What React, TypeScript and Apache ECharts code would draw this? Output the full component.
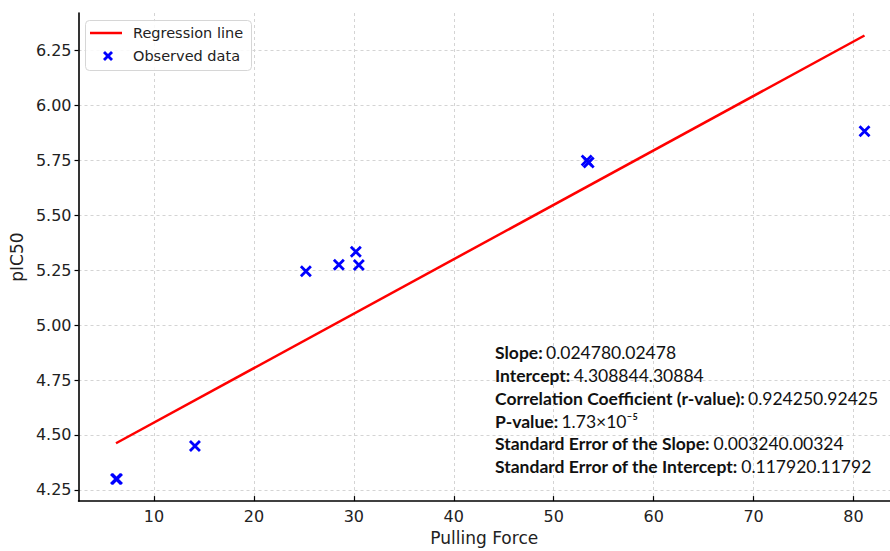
import React, { useEffect, useRef } from "react";
import * as echarts from "echarts";

const X_VALUES = [6.2, 6.3, 14.1, 25.2, 28.5, 30.2, 30.5, 53.3, 53.5, 81.1];
const Y_VALUES = [4.3, 4.3, 4.45, 5.245, 5.275, 5.334, 5.274, 5.75, 5.74, 5.883];
const X_TICKS = [10, 20, 30, 40, 50, 60, 70, 80];
const Y_TICKS = [4.25, 4.5, 4.75, 5.0, 5.25, 5.5, 5.75, 6.0, 6.25];
const SLOPE = 0.02478;
const INTERCEPT = 4.30884;
const STAT_LABELS = [
  "Slope:",
  "Intercept:",
  "Correlation Coefficient (r-value):",
  "P-value:",
  "Standard Error of the Slope:",
  "Standard Error of the Intercept:",
];
const STAT_VALUES = [
  "0.024780.02478",
  "4.308844.30884",
  "0.924250.92425",
  "1.73×10⁻⁵",
  "0.003240.00324",
  "0.117920.11792",
];

const TICK_FONT = "DejaVu Sans";

export default function App() {
  const ref = useRef<HTMLDivElement>(null);
  useEffect(() => {
    document.body.style.margin = "0";
    if (!ref.current) return;
    const chart = echarts.init(ref.current, undefined, { renderer: "svg" });
    const xMin = Math.min(...X_VALUES);
    const xMax = Math.max(...X_VALUES);
    const lineData = [
      [xMin, INTERCEPT + SLOPE * xMin],
      [xMax, INTERCEPT + SLOPE * xMax],
    ];
    const scatterData = X_VALUES.map((x, i) => [x, Y_VALUES[i]]);
    const statFont = "Lato";
    const statSize = 17.5;
    const statTexts = STAT_LABELS.map((lab, i) => ({
      type: "text",
      z: 100,
      x: 495,
      y: 352.7 + i * 22.8,
      style: {
        text: `{b|${lab}} {n|${STAT_VALUES[i]}}`,
        verticalAlign: "middle",
        rich: {
          b: { fontFamily: statFont, fontWeight: "bold", fontSize: statSize, fill: "#111" },
          n: { fontFamily: statFont, fontWeight: "normal", fontSize: statSize, fill: "#111" },
        },
      },
    }));
    chart.setOption({
      animation: false,
      grid: { left: 78, top: 13, right: 0, height: 492, containLabel: false },
      xAxis: {
        type: "value",
        min: 2.45,
        max: 83.65,
        name: "Pulling Force",
        nameLocation: "middle",
        nameGap: 25,
        nameTextStyle: { fontSize: 17, fontFamily: TICK_FONT, color: "#222" },
        axisLine: { show: true, onZero: false, lineStyle: { color: "#000", width: 1.6 } },
        axisTick: {
          show: true,
          inside: true,
          length: 5,
          customValues: X_TICKS,
          lineStyle: { color: "#000", width: 1.2 },
        },
        axisLabel: {
          customValues: X_TICKS,
          fontSize: 16,
          fontFamily: TICK_FONT,
          color: "#222",
          margin: 7,
        },
        splitLine: { show: true, lineStyle: { color: "#d4d4d4", type: [3, 3], width: 1 } },
      },
      yAxis: {
        type: "value",
        min: 4.199,
        max: 6.421,
        name: "pIC50",
        nameLocation: "middle",
        nameGap: 47,
        nameTextStyle: { fontSize: 17, fontFamily: TICK_FONT, color: "#222" },
        axisLine: { show: true, onZero: false, lineStyle: { color: "#000", width: 1.6 } },
        axisTick: {
          show: true,
          inside: false,
          length: 4,
          customValues: Y_TICKS,
          lineStyle: { color: "#000", width: 1.2 },
        },
        axisLabel: {
          customValues: Y_TICKS,
          fontSize: 16,
          fontFamily: TICK_FONT,
          color: "#222",
          margin: 7,
          formatter: (v: number) => v.toFixed(2),
        },
        splitLine: { show: true, lineStyle: { color: "#d4d4d4", type: [3, 3], width: 1 } },
      },
      series: [
        {
          name: "Regression line",
          type: "line",
          data: lineData,
          showSymbol: false,
          symbol: "none",
          lineStyle: { color: "#ff0000", width: 2.5 },
          z: 3,
        },
        {
          name: "Observed data",
          type: "scatter",
          data: scatterData,
          symbol: "path://M0,0L10,10M10,0L0,10",
          symbolSize: 10,
          itemStyle: { color: "#0000ff", borderColor: "#0000ff", borderWidth: 2.8, opacity: 1 },
          z: 4,
        },
      ],
      graphic: [
        {
          type: "rect",
          z: 100,
          shape: { x: 85.5, y: 20.5, width: 166, height: 50, r: 4 },
          style: { fill: "rgba(255,255,255,0.85)", stroke: "#d6d6d6", lineWidth: 1 },
        },
        {
          type: "line",
          z: 101,
          shape: { x1: 90, y1: 33, x2: 122, y2: 33 },
          style: { stroke: "#ff0000", lineWidth: 2.5 },
        },
        {
          type: "text",
          z: 101,
          x: 133,
          y: 33,
          style: {
            text: "Regression line",
            fontFamily: TICK_FONT,
            fontSize: 14.5,
            fill: "#222",
            verticalAlign: "middle",
          },
        },
        {
          type: "line",
          z: 101,
          shape: { x1: 104, y1: 52, x2: 112, y2: 60 },
          style: { stroke: "#0000ff", lineWidth: 2.8 },
        },
        {
          type: "line",
          z: 101,
          shape: { x1: 112, y1: 52, x2: 104, y2: 60 },
          style: { stroke: "#0000ff", lineWidth: 2.8 },
        },
        {
          type: "text",
          z: 101,
          x: 133,
          y: 56,
          style: {
            text: "Observed data",
            fontFamily: TICK_FONT,
            fontSize: 14.5,
            fill: "#222",
            verticalAlign: "middle",
          },
        },
        ...statTexts,
      ],
    });
    return () => chart.dispose();
  }, []);
  return <div ref={ref} style={{ width: 890, height: 551 }} />;
}
